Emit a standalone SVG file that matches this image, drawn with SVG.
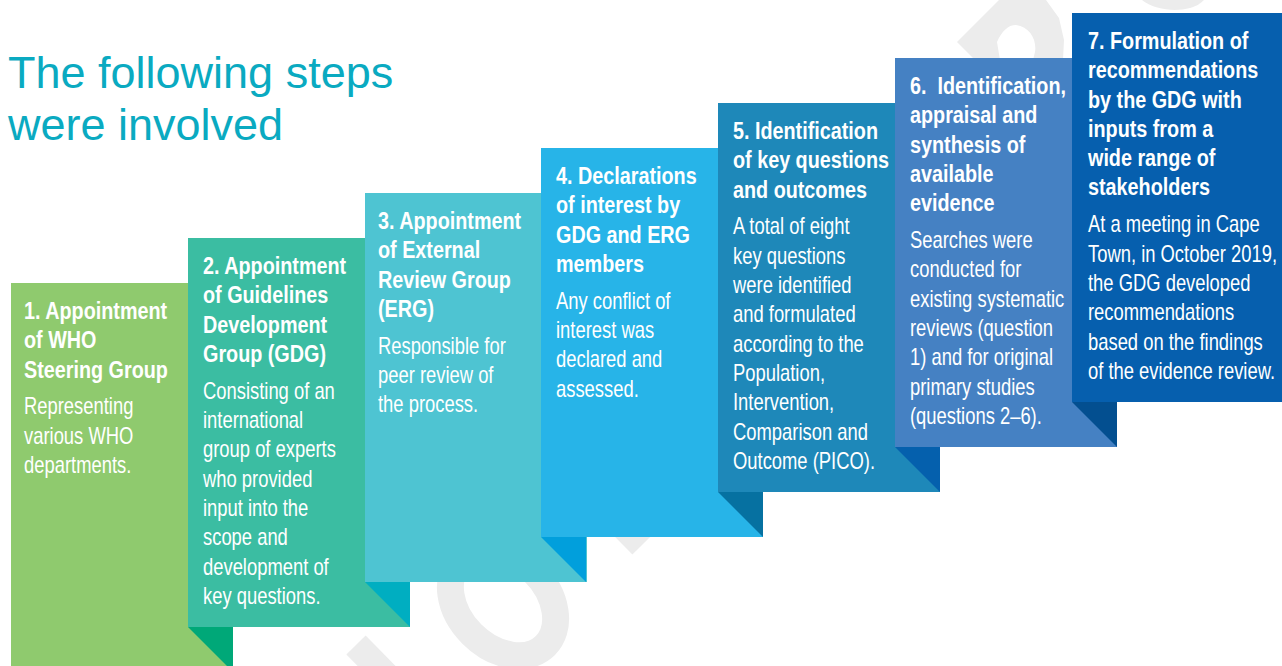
<svg xmlns="http://www.w3.org/2000/svg" width="1282" height="666" viewBox="0 0 1282 666">
<style>
.title{font-family:"Liberation Sans",Arial,sans-serif;font-size:45px;fill:#0aaac1}
.h{font-family:"Liberation Sans",Arial,sans-serif;font-size:23px;font-weight:bold;fill:#ffffff}
.b{font-family:"Liberation Sans",Arial,sans-serif;font-size:23px;fill:#ffffff}
.wm{fill:none;stroke:#ececec;stroke-width:27}
</style>
<rect width="1282" height="666" fill="#ffffff"/>
<g id="watermark">
<ellipse class="wm" cx="503" cy="603" rx="60" ry="44" transform="rotate(45 503 603)"/>
<line class="wm" x1="356" y1="645" x2="410" y2="700"/>
<line class="wm" x1="590" y1="492" x2="642" y2="545"/>
<path fill="#ececec" fill-rule="evenodd" d="M957,42 L999,0 L1046,0 L1059,18 L1064,40 L1063,60 L975,60 Z M1016,25 C1030,27 1037,40 1035,52 L1033,60 L1000,60 L997,42 C1002,31 1008,25 1016,25 Z"/>
<path fill="#ececec" d="M1142,0 C1155,10 1175,12 1190,8 C1197,6 1201,3 1204,0 Z"/>
</g>
<g id="title">
<text class="title" x="8" y="88">The following steps</text>
<text class="title" x="8" y="140">were involved</text>
</g>
<g id="step1">
<rect x="11" y="283" width="222" height="389" fill="#8fca6e"/>
<g transform="translate(24 0) scale(0.86 1)">
<text class="h" x="0" y="319">1. Appointment</text>
<text class="h" x="0" y="348.3">of WHO</text>
<text class="h" x="0" y="377.6">Steering Group</text>
</g>
<g transform="translate(24 0) scale(0.8 1)">
<text class="b" x="0" y="414.5">Representing</text>
<text class="b" x="0" y="443.8">various WHO</text>
<text class="b" x="0" y="473.1">departments.</text>
</g>
</g>
<g id="step2">
<rect x="188" y="238" width="222" height="389" fill="#3bbda2"/>
<polygon points="188,627 233,627 233,672" fill="#00a878"/>
<g transform="translate(203 0) scale(0.86 1)">
<text class="h" x="0" y="274">2. Appointment</text>
<text class="h" x="0" y="303.3">of Guidelines</text>
<text class="h" x="0" y="332.6">Development</text>
<text class="h" x="0" y="361.9">Group (GDG)</text>
</g>
<g transform="translate(203 0) scale(0.8 1)">
<text class="b" x="0" y="398.8">Consisting of an</text>
<text class="b" x="0" y="428.1">international</text>
<text class="b" x="0" y="457.4">group of experts</text>
<text class="b" x="0" y="486.7">who provided</text>
<text class="b" x="0" y="516">input into the</text>
<text class="b" x="0" y="545.3">scope and</text>
<text class="b" x="0" y="574.6">development of</text>
<text class="b" x="0" y="603.9">key questions.</text>
</g>
</g>
<g id="step3">
<rect x="365" y="193" width="222" height="389" fill="#4ec4d2"/>
<polygon points="365,582 410,582 410,627" fill="#00aec1"/>
<g transform="translate(378 0) scale(0.86 1)">
<text class="h" x="0" y="229">3. Appointment</text>
<text class="h" x="0" y="258.3">of External</text>
<text class="h" x="0" y="287.6">Review Group</text>
<text class="h" x="0" y="316.9">(ERG)</text>
</g>
<g transform="translate(378 0) scale(0.8 1)">
<text class="b" x="0" y="353.8">Responsible for</text>
<text class="b" x="0" y="383.1">peer review of</text>
<text class="b" x="0" y="412.4">the process.</text>
</g>
</g>
<g id="step4">
<rect x="541" y="148" width="222" height="389" fill="#27b4e8"/>
<polygon points="541,537 586,537 586,582" fill="#019fdc"/>
<g transform="translate(556 0) scale(0.86 1)">
<text class="h" x="0" y="184">4. Declarations</text>
<text class="h" x="0" y="213.3">of interest by</text>
<text class="h" x="0" y="242.6">GDG and ERG</text>
<text class="h" x="0" y="271.9">members</text>
</g>
<g transform="translate(556 0) scale(0.8 1)">
<text class="b" x="0" y="308.8">Any conflict of</text>
<text class="b" x="0" y="338.1">interest was</text>
<text class="b" x="0" y="367.4">declared and</text>
<text class="b" x="0" y="396.7">assessed.</text>
</g>
</g>
<g id="step5">
<rect x="718" y="103" width="222" height="389" fill="#1e88b9"/>
<polygon points="718,492 763,492 763,537" fill="#0671a1"/>
<g transform="translate(733 0) scale(0.86 1)">
<text class="h" x="0" y="139">5. Identification</text>
<text class="h" x="0" y="168.3">of key questions</text>
<text class="h" x="0" y="197.6">and outcomes</text>
</g>
<g transform="translate(733 0) scale(0.8 1)">
<text class="b" x="0" y="234.5">A total of eight</text>
<text class="b" x="0" y="263.8">key questions</text>
<text class="b" x="0" y="293.1">were identified</text>
<text class="b" x="0" y="322.4">and formulated</text>
<text class="b" x="0" y="351.7">according to the</text>
<text class="b" x="0" y="381">Population,</text>
<text class="b" x="0" y="410.3">Intervention,</text>
<text class="b" x="0" y="439.6">Comparison and</text>
<text class="b" x="0" y="468.9">Outcome (PICO).</text>
</g>
</g>
<g id="step6">
<rect x="895" y="58" width="222" height="389" fill="#4581c3"/>
<polygon points="895,447 940,447 940,492" fill="#0560ad"/>
<g transform="translate(910 0) scale(0.86 1)">
<text class="h" x="0" y="94">6.&#160; Identification,</text>
<text class="h" x="0" y="123.3">appraisal and</text>
<text class="h" x="0" y="152.6">synthesis of</text>
<text class="h" x="0" y="181.9">available</text>
<text class="h" x="0" y="211.2">evidence</text>
</g>
<g transform="translate(910 0) scale(0.8 1)">
<text class="b" x="0" y="248.1">Searches were</text>
<text class="b" x="0" y="277.4">conducted for</text>
<text class="b" x="0" y="306.7">existing systematic</text>
<text class="b" x="0" y="336">reviews (question</text>
<text class="b" x="0" y="365.3">1) and for original</text>
<text class="b" x="0" y="394.6">primary studies</text>
<text class="b" x="0" y="423.9">(questions 2–6).</text>
</g>
</g>
<g id="step7">
<rect x="1072" y="13" width="222" height="389" fill="#065fae"/>
<polygon points="1072,402 1117,402 1117,447" fill="#034f90"/>
<g transform="translate(1088 0) scale(0.86 1)">
<text class="h" x="0" y="49">7. Formulation of</text>
<text class="h" x="0" y="78.3">recommendations</text>
<text class="h" x="0" y="107.6">by the GDG with</text>
<text class="h" x="0" y="136.9">inputs from a</text>
<text class="h" x="0" y="166.2">wide range of</text>
<text class="h" x="0" y="195.5">stakeholders</text>
</g>
<g transform="translate(1088 0) scale(0.8 1)">
<text class="b" x="0" y="232.4">At a meeting in Cape</text>
<text class="b" x="0" y="261.7">Town, in October 2019,</text>
<text class="b" x="0" y="291">the GDG developed</text>
<text class="b" x="0" y="320.3">recommendations</text>
<text class="b" x="0" y="349.6">based on the findings</text>
<text class="b" x="0" y="378.9">of the evidence review.</text>
</g>
</g>
</svg>
